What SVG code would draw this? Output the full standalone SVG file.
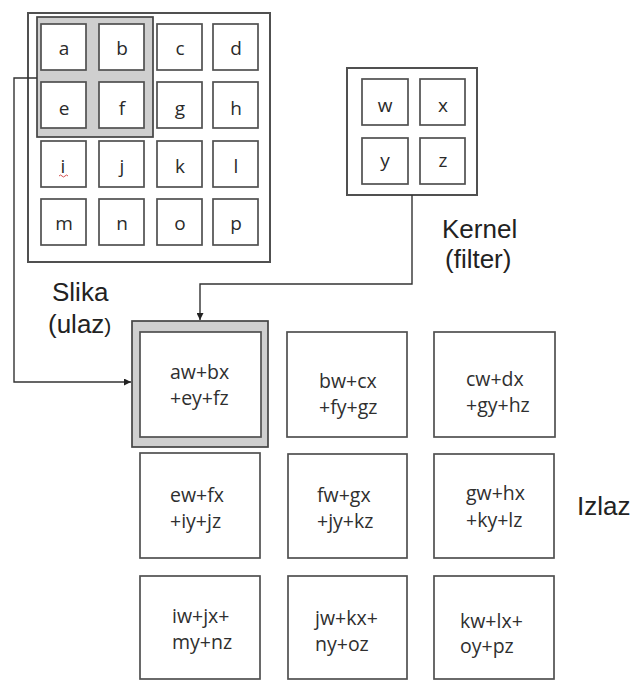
<svg xmlns="http://www.w3.org/2000/svg" width="635" height="680" viewBox="0 0 635 680">
<defs>
<style>
.frame{fill:#fff;stroke:#505050;stroke-width:2}
.cell{fill:#fff;stroke:#505050;stroke-width:1.7}
.hl{fill:#cfcfcf;stroke:#444;stroke-width:1.7}
.ch{font-family:"Open Sans","Liberation Sans",sans-serif;font-size:19px;fill:#2a2a2a;text-anchor:middle}
.ot{font-family:"Open Sans","Liberation Sans",sans-serif;font-size:19.5px;fill:#2f2f2f}
.lb{font-family:"Liberation Sans",Arial,sans-serif;font-size:26px;fill:#222}
.con{fill:none;stroke:#333;stroke-width:1.4}
</style>
<marker id="arr" viewBox="0 0 10 10" refX="10" refY="5" markerWidth="7" markerHeight="7" markerUnits="userSpaceOnUse" orient="auto">
<path d="M0,0 L10,5 L0,10 z" fill="#222"/>
</marker>
</defs>
<rect width="635" height="680" fill="#fff"/>

<g id="slika">
<rect class="frame" x="28" y="13" width="242" height="249"/>
<rect class="hl" x="37" y="17" width="116" height="120"/>
<rect class="cell" x="41" y="24" width="45" height="46"/><text class="ch" x="64" y="55">a</text>
<rect class="cell" x="99" y="24" width="45" height="46"/><text class="ch" x="122" y="55">b</text>
<rect class="cell" x="157" y="24" width="45" height="46"/><text class="ch" x="180" y="55">c</text>
<rect class="cell" x="213" y="24" width="45" height="46"/><text class="ch" x="236" y="55">d</text>
<rect class="cell" x="41" y="82" width="45" height="46"/><text class="ch" x="64" y="115">e</text>
<rect class="cell" x="99" y="82" width="45" height="46"/><text class="ch" x="122" y="115">f</text>
<rect class="cell" x="157" y="82" width="45" height="46"/><text class="ch" x="180" y="115">g</text>
<rect class="cell" x="213" y="82" width="45" height="46"/><text class="ch" x="236" y="115">h</text>
<rect class="cell" x="41" y="141" width="45" height="46"/><text class="ch" x="63" y="173">i</text>
<path d="M59,176 q1.5,-2 3,0 t3,0 t3,0" fill="none" stroke="#d04040" stroke-width="0.9"/>
<rect class="cell" x="99" y="141" width="45" height="46"/><text class="ch" x="122" y="173">j</text>
<rect class="cell" x="157" y="141" width="45" height="46"/><text class="ch" x="180" y="173">k</text>
<rect class="cell" x="213" y="141" width="45" height="46"/><text class="ch" x="236" y="173">l</text>
<rect class="cell" x="41" y="199" width="45" height="46"/><text class="ch" x="64" y="230">m</text>
<rect class="cell" x="99" y="199" width="45" height="46"/><text class="ch" x="122" y="230">n</text>
<rect class="cell" x="157" y="199" width="45" height="46"/><text class="ch" x="180" y="230">o</text>
<rect class="cell" x="213" y="199" width="45" height="46"/><text class="ch" x="236" y="230">p</text>
</g>

<g id="kernel">
<rect class="frame" x="347" y="68" width="130" height="127"/>
<rect class="cell" x="362" y="79" width="46" height="46"/><text class="ch" x="385" y="112">w</text>
<rect class="cell" x="420" y="79" width="45" height="46"/><text class="ch" x="443" y="112">x</text>
<rect class="cell" x="362" y="138" width="46" height="46"/><text class="ch" x="385" y="167">y</text>
<rect class="cell" x="420" y="138" width="45" height="46"/><text class="ch" x="443" y="167">z</text>
</g>

<g id="labels">
<text class="lb" x="52" y="301">Slika</text>
<text class="lb" x="48" y="333">(ulaz<tspan font-size="21px">)</tspan></text>
<text class="lb" x="442" y="238">Kernel</text>
<text class="lb" x="445" y="268">(filter)</text>
<text class="lb" x="577" y="515">Izlaz</text>
</g>

<g id="connectors">
<polyline class="con" points="37,78 14,78 14,382 131,382" marker-end="url(#arr)"/>
<polyline class="con" points="412,195 412,284 200,284 200,320" marker-end="url(#arr)"/>
</g>

<g id="o11">
<rect class="hl" x="132" y="321" width="136" height="126"/>
<rect class="cell" x="140" y="332" width="121" height="105"/>
<text class="ot" x="170" y="379">aw+bx</text>
<text class="ot" x="170" y="405">+ey+fz</text>
</g>
<g id="o12">
<rect class="cell" x="287" y="332" width="120" height="105"/>
<text class="ot" x="319" y="388">bw+cx</text>
<text class="ot" x="319" y="414">+fy+gz</text>
</g>
<g id="o13">
<rect class="cell" x="434" y="332" width="121" height="105"/>
<text class="ot" x="466" y="386">cw+dx</text>
<text class="ot" x="466" y="412">+gy+hz</text>
</g>
<g id="o21">
<rect class="cell" x="140" y="453" width="120" height="105"/>
<text class="ot" x="170" y="502">ew+fx</text>
<text class="ot" x="170" y="528">+iy+jz</text>
</g>
<g id="o22">
<rect class="cell" x="288" y="454" width="119" height="104"/>
<text class="ot" x="317" y="502">fw+gx</text>
<text class="ot" x="317" y="528">+jy+kz</text>
</g>
<g id="o23">
<rect class="cell" x="434" y="454" width="120" height="104"/>
<text class="ot" x="466" y="500">gw+hx</text>
<text class="ot" x="466" y="527">+ky+lz</text>
</g>
<g id="o31">
<rect class="cell" x="140" y="576" width="120" height="103"/>
<text class="ot" x="172" y="623">iw+jx+</text>
<text class="ot" x="172" y="649">my+nz</text>
</g>
<g id="o32">
<rect class="cell" x="288" y="576" width="119" height="103"/>
<text class="ot" x="315" y="625">jw+kx+</text>
<text class="ot" x="315" y="651">ny+oz</text>
</g>
<g id="o33">
<rect class="cell" x="434" y="576" width="120" height="103"/>
<text class="ot" x="460" y="628">kw+lx+</text>
<text class="ot" x="460" y="653">oy+pz</text>
</g>
</svg>
